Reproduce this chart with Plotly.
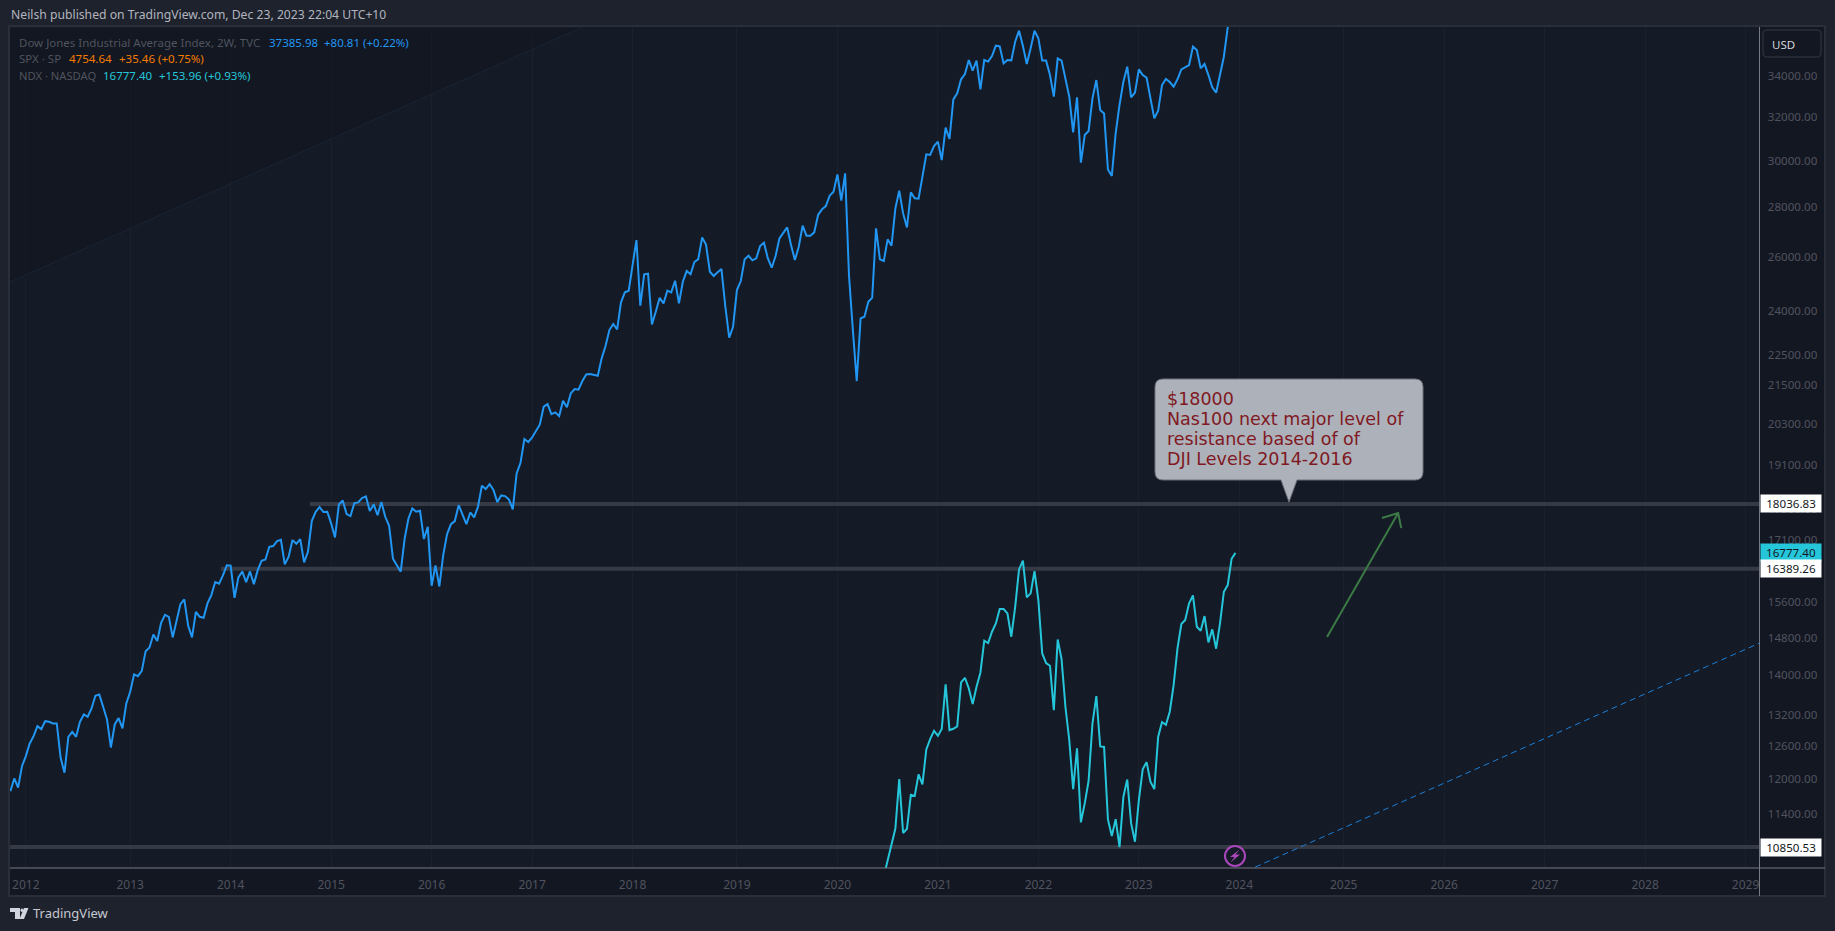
import numpy as np
import plotly.graph_objects as go

WIDTH = 1835
HEIGHT = 931

# Dow Jones 2W closes, oldest first
dji_close = [
    11788, 12011, 11851, 12232, 12415, 12650, 12789, 12979, 12922, 13075, 13062, 13030, 13030,
    12384, 12113, 12775, 12869, 12775, 13062, 13206, 13160, 13323, 13576, 13603, 13356, 13108,
    12575, 13011, 13135, 12935, 13424, 13656, 14012, 13976, 14087, 14503, 14584, 14867, 14721,
    15127, 15306, 15260, 14802, 15187, 15550, 15658, 15060, 14802, 15374, 15260, 15239, 15566,
    15759, 16066, 16026, 16224, 16469, 16460, 15697, 16178, 16322, 16066, 16322, 16018, 16353,
    16582, 16613, 16929, 16946, 17071, 17106, 16492, 16680, 17097, 17004, 17123, 16540, 16804,
    17593, 17830, 17955, 17822, 17830, 17525, 17164, 18024, 18131, 17768, 17716, 18060, 18078,
    18195, 18239, 17847, 18024, 17741, 18087, 17698, 17464, 16630, 16469, 16314, 17123, 17654,
    17918, 17830, 17856, 17123, 17437, 15978, 16469, 15962, 16721, 17250, 17506, 17585, 18006,
    17741, 17506, 17812, 17681, 17962, 18530, 18438, 18575, 18413, 18087, 18266, 18249, 18159,
    17891, 18871, 19173, 19857, 19769, 19906, 20095, 20293, 20832, 20914, 20606, 20658, 20546,
    21016, 20813, 21247, 21384, 21362, 21639, 21854, 21864, 21832, 21810, 22378, 22790, 23337,
    23546, 23359, 24315, 24677, 24738, 25696, 26666, 24194, 25345, 25370, 23534, 23980, 24482,
    24276, 24738, 24677, 25106, 24276, 25070, 25468, 25345, 25812, 25924, 26770, 26485, 25444,
    25282, 25419, 25545, 24158, 23073, 23452, 24763, 25095, 25913, 26056, 25875, 25951, 26430,
    26561, 25951, 25595, 26042, 26732, 26957, 27171, 26471, 25886, 26405, 27238, 26839, 26839,
    26971, 27673, 27906, 28043, 28477, 28646, 29390, 28266, 29434, 25300, 23340, 21639, 23745,
    23804, 24337, 24482, 27130, 25913, 25850, 26693, 26443, 27950, 28687, 27739, 27171, 28617,
    28364, 28351, 29289, 30275, 30246, 30650, 30849, 30022, 31495, 30971, 32844, 33140, 33834,
    34100, 34814, 34270, 34784, 33336, 34814, 34732, 35024, 35563, 35526, 34643, 34814, 34798,
    35774, 36361, 35545, 34610, 35423, 36361, 35951, 34784, 34784, 34048, 32974, 34902, 34784,
    33882, 32974, 31278, 32940, 29904, 31152, 31341, 32896, 33797, 32331, 32168, 29608, 29320,
    31230, 32571, 33716, 34473, 32940, 33170, 34337, 34048, 33916, 32896, 31932, 32298, 33549,
    33849, 33698, 33465, 33834, 34337, 34459, 34558, 35511, 35338, 34389, 34610, 34048, 33432,
    33170, 34048, 34986, 36541, 37000, 37385.98,
]

# Nasdaq 100 closes, only the stretch that is on screen, newest value lines up with the Dow
ndx_close = [
    10389, 10637, 10893, 11153, 12000, 11078, 11148, 11724, 11702, 12083, 11905, 12540, 12733,
    12890, 12796, 12923, 13807, 12904, 12928, 12974, 13846, 13943, 13725, 13410, 13759, 14048,
    14730, 14679, 14927, 15111, 15436, 15436, 15339, 14817, 15489, 16370, 16583, 15706, 15799,
    16330, 15643, 14455, 14250, 14193, 13290, 14757, 14335, 13357, 12714, 11823, 12558, 11254,
    11575, 11970, 13030, 13571, 12594, 12585, 11303, 11028, 11309, 10850, 11690, 11993, 11237,
    10936, 11632, 12174, 12305, 11953, 11823, 12776, 13058, 13005, 13260, 13793, 14562, 15098,
    15187, 15568, 15752, 15038, 14949, 15277, 14693, 14980, 14556, 15111, 15838, 15995, 16631,
    16777.40,
]

# drawings on the chart
level_values = [18036.83, 16389.26, 10850.53]
level_start_bars = [77.5, 54.5, -1]
dashed_bars = [322.1, 452.6]
dashed_values = [10533, 14678]
faint_bars = [-0.1, 148]
faint_values = [25058, 36560]
arrow_bars = [340.7, 359.1, 354.9, 359.1, 359.9]
arrow_values = [14811, 17795, 17667, 17795, 17404]
callout_lines = ["$18000", "Nas100 next major level of", "resistance based of of", "DJI Levels 2014-2016"]

# axes
year_labels = list(range(2012, 2030))
year_bars = [4, 31, 57, 83, 109, 135, 161, 188, 214, 240, 266, 292, 318, 345, 371, 397, 423, 449]
price_ticks = [34000, 32000, 30000, 28000, 26000, 24000, 22500, 21500, 20300, 19100, 17900,
               17100, 15600, 14800, 14000, 13200, 12600, 12000, 11400]
x_range = [-0.1, 452.6]
y_min = 10519
y_max = 36560

# colors
PAGE_BG = "#1e222d"
PANEL_BG = "#131722"
PLOT_BG = "#141a26"
BORDER = "#2a2e39"
AXIS_LINE = "#787b86"
DIM_TEXT = "#50535e"
LEVEL_COLOR = "#363a45"
BLUE = "#2196f3"
ORANGE = "#f57c00"
CYAN = "#26c6da"
FONT = "Noto Sans"


def px_x(px):
    return px / WIDTH


def px_y(py):
    return 1 - py / HEIGHT


def rounded_path(x0, y0, x1, y1, r, pointer=None):
    # path in paper coords, pointer is (left x, tip x, tip y, right x) on the bottom edge
    def p(x, y):
        return f"{px_x(x):.5f},{px_y(y):.5f}"
    d = f"M {p(x0 + r, y0)} L {p(x1 - r, y0)} Q {p(x1, y0)} {p(x1, y0 + r)} "
    d += f"L {p(x1, y1 - r)} Q {p(x1, y1)} {p(x1 - r, y1)} "
    if pointer:
        d += f"L {p(pointer[3], y1)} L {p(pointer[1], pointer[2])} L {p(pointer[0], y1)} "
    d += f"L {p(x0 + r, y1)} Q {p(x0, y1)} {p(x0, y1 - r)} "
    d += f"L {p(x0, y0 + r)} Q {p(x0, y0)} {p(x0 + r, y0)} Z"
    return d


def poly_path(points):
    coords = [f"{px_x(x):.5f},{px_y(y):.5f}" for x, y in points]
    return "M " + " L ".join(coords) + " Z"


def add_text(fig, px, py, text, color, size=11.5, anchor="left", family=FONT):
    fig.add_annotation(
        x=px_x(px), y=px_y(py), xref="paper", yref="paper", text=text, showarrow=False,
        xanchor=anchor, yanchor="middle", align="left", borderpad=0,
        font=dict(family=family, size=size, color=color),
    )


def add_price_tag(fig, value, bg):
    fig.add_annotation(
        x=px_x(1759.5), y=np.log10(value), xref="paper", yref="y", text=f"{value:.2f}",
        showarrow=False, xanchor="left", yanchor="middle", align="center", width=60, height=17,
        bgcolor=bg, borderpad=0, font=dict(family=FONT, size=11.6, color="#131722"),
    )


fig = go.Figure()

dji_bars = np.arange(len(dji_close))
ndx_bars = np.arange(len(dji_close) - len(ndx_close), len(dji_close))

# faint trend line with the slightly darker area above it
fig.add_trace(go.Scatter(
    x=[faint_bars[0], faint_bars[1], faint_bars[0]],
    y=[faint_values[0], faint_values[1], faint_values[1]],
    mode="lines", fill="toself", fillcolor="rgba(15,19,28,0.45)",
    line=dict(color="#1b2536", width=1), hoverinfo="skip",
))

# thick grey levels sit under the price lines
for value, start in zip(level_values, level_start_bars):
    fig.add_trace(go.Scatter(
        x=[start, x_range[1]], y=[value, value], mode="lines",
        line=dict(color=LEVEL_COLOR, width=4), hoverinfo="skip",
    ))

fig.add_trace(go.Scatter(
    x=dashed_bars, y=dashed_values, mode="lines",
    line=dict(color="#1c7fd6", width=1, dash="6px,4px"), hoverinfo="skip",
))
fig.add_trace(go.Scatter(
    x=arrow_bars, y=arrow_values, mode="lines",
    line=dict(color="#3b7a45", width=2), hoverinfo="skip",
))
fig.add_trace(go.Scatter(x=dji_bars, y=dji_close, mode="lines", name="DJI", line=dict(color=BLUE, width=2)))
fig.add_trace(go.Scatter(x=ndx_bars, y=ndx_close, mode="lines", name="NDX", line=dict(color=CYAN, width=2)))

# panel behind the plot, axis lines, callout and small icons
shapes = [
    dict(type="rect", xref="paper", yref="paper", x0=px_x(9), x1=px_x(1825), y0=px_y(896), y1=px_y(26),
         fillcolor=PANEL_BG, line=dict(color=BORDER, width=2), layer="below"),
    dict(type="rect", xref="paper", yref="paper", x0=px_x(10), x1=px_x(1759.5), y0=px_y(868), y1=px_y(27),
         fillcolor=PLOT_BG, line=dict(width=0), layer="below"),
    dict(type="line", xref="paper", yref="paper", x0=px_x(1759.5), x1=px_x(1759.5), y0=px_y(896), y1=px_y(27),
         line=dict(color=AXIS_LINE, width=1), layer="above"),
    dict(type="line", xref="paper", yref="paper", x0=px_x(10), x1=px_x(1825), y0=px_y(868), y1=px_y(868),
         line=dict(color=AXIS_LINE, width=1), layer="above"),
    dict(type="path", xref="paper", yref="paper", path=rounded_path(1763, 30, 1821, 57, 4),
         fillcolor=PANEL_BG, line=dict(color="#363a45", width=1), layer="above"),
    dict(type="path", xref="paper", yref="paper",
         path=rounded_path(1155, 379, 1423, 480, 8, pointer=(1281, 1289, 502, 1297)),
         fillcolor="#adb1ba", line=dict(color="#6f727c", width=1), layer="above"),
    # lightning badge
    dict(type="circle", xref="paper", yref="paper", x0=px_x(1225), x1=px_x(1245), y0=px_y(866), y1=px_y(846),
         fillcolor=PLOT_BG, line=dict(color="#ab47bc", width=2), layer="above"),
    dict(type="path", xref="paper", yref="paper",
         path=poly_path([(1239.5, 849.5), (1230, 857), (1234.5, 857), (1230.5, 862.5), (1240, 854.5), (1235.5, 854.5)]),
         fillcolor="#ab47bc", line=dict(width=0), layer="above"),
    # TradingView mark
    dict(type="path", xref="paper", yref="paper",
         path=poly_path([(10, 908), (20, 908), (20, 919), (15, 919), (15, 912), (10, 912)]),
         fillcolor="#d1d4dc", line=dict(width=0), layer="above"),
    dict(type="circle", xref="paper", yref="paper", x0=px_x(20.5), x1=px_x(23.5), y0=px_y(912), y1=px_y(908.5),
         fillcolor="#d1d4dc", line=dict(width=0), layer="above"),
    dict(type="path", xref="paper", yref="paper",
         path=poly_path([(24, 908), (28.5, 908), (24, 919), (19.5, 919)]),
         fillcolor="#d1d4dc", line=dict(width=0), layer="above"),
]

fig.update_layout(
    width=WIDTH,
    height=HEIGHT,
    margin=dict(l=0, r=0, t=0, b=0),
    paper_bgcolor=PAGE_BG,
    plot_bgcolor=PLOT_BG,
    showlegend=False,
    shapes=shapes,
    font=dict(family=FONT, color=DIM_TEXT),
    xaxis=dict(
        domain=[px_x(10), px_x(1759.5)],
        range=x_range,
        tickmode="array",
        tickvals=year_bars,
        ticktext=[str(y) for y in year_labels],
        tickfont=dict(family=FONT, size=12, color=DIM_TEXT),
        ticks="outside",
        ticklen=6,
        tickcolor="rgba(0,0,0,0)",
        showgrid=True,
        gridcolor="#1a202c",
        gridwidth=1,
        zeroline=False,
        showline=False,
        automargin=False,
    ),
    yaxis=dict(
        domain=[px_y(868), px_y(27)],
        type="log",
        range=[np.log10(y_min), np.log10(y_max)],
        side="right",
        tickmode="array",
        tickvals=price_ticks,
        ticktext=[f"{p:.2f}" for p in price_ticks],
        tickfont=dict(family=FONT, size=11.6, color=DIM_TEXT),
        ticks="outside",
        ticklen=5,
        tickcolor="rgba(0,0,0,0)",
        showgrid=False,
        zeroline=False,
        showline=False,
        automargin=False,
    ),
)

# header and legend rows
add_text(fig, 10, 15, "Neilsh published on TradingView.com, Dec 23, 2023 22:04 UTC+10", "#b2b5be", size=12.2)
add_text(fig, 18, 42, "Dow Jones Industrial Average Index, 2W, TVC", DIM_TEXT)
add_text(fig, 268, 42, "37385.98", BLUE)
add_text(fig, 323, 42, "+80.81 (+0.22%)", BLUE)
add_text(fig, 18, 59, "SPX · SP", DIM_TEXT)
add_text(fig, 68, 59, "4754.64", ORANGE)
add_text(fig, 118, 59, "+35.46 (+0.75%)", ORANGE)
add_text(fig, 18, 76, "NDX · NASDAQ", DIM_TEXT, size=11.2)
add_text(fig, 102, 76, "16777.40", CYAN)
add_text(fig, 158, 76, "+153.96 (+0.93%)", CYAN)
add_text(fig, 1771, 44, "USD", "#d1d4dc", size=11.5)
add_text(fig, 32, 913, "TradingView", "#c5c8d0", size=13)

# callout text, one annotation per line to hold the line spacing
for i, line in enumerate(callout_lines):
    add_text(fig, 1166, 399 + i * 20, line, "#801922", size=17.5, family="DejaVu Sans")

# price tags on the right axis
add_price_tag(fig, level_values[0], "#ffffff")
add_price_tag(fig, ndx_close[-1], CYAN)
add_price_tag(fig, level_values[1], "#ffffff")
add_price_tag(fig, level_values[2], "#ffffff")

fig.write_html(
    "out.html",
    config={"displayModeBar": False},
    post_script="document.body.style.margin='0';",
)
